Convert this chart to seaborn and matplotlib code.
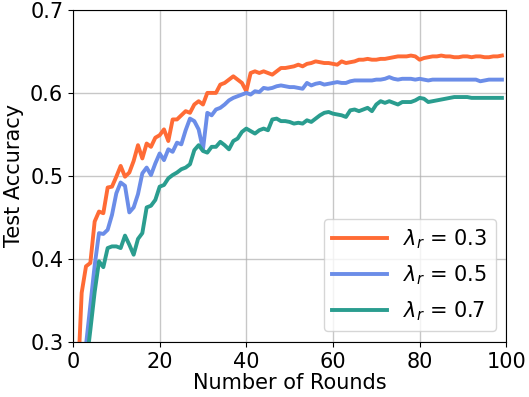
import numpy as np
import pandas as pd
import matplotlib
matplotlib.use('Agg')
import matplotlib.pyplot as plt
import seaborn as sns

rounds = list(range(100))

acc_03 = [0.20, 0.24, 0.359, 0.391, 0.395, 0.445, 0.457, 0.455, 0.486, 0.487,
          0.499, 0.512, 0.499, 0.504, 0.518, 0.537, 0.521, 0.539, 0.535, 0.546,
          0.549, 0.556, 0.542, 0.568, 0.568, 0.573, 0.578, 0.576, 0.586, 0.590,
          0.586, 0.600, 0.600, 0.600, 0.610, 0.612, 0.616, 0.620, 0.616, 0.612,
          0.602, 0.624, 0.626, 0.624, 0.626, 0.624, 0.622, 0.626, 0.630, 0.630,
          0.631, 0.632, 0.634, 0.632, 0.635, 0.636, 0.638, 0.637, 0.636, 0.636,
          0.635, 0.634, 0.638, 0.636, 0.637, 0.638, 0.640, 0.640, 0.641, 0.640,
          0.640, 0.641, 0.641, 0.642, 0.643, 0.644, 0.644, 0.644, 0.645, 0.644,
          0.640, 0.642, 0.643, 0.644, 0.644, 0.645, 0.644, 0.644, 0.643, 0.643,
          0.644, 0.644, 0.643, 0.644, 0.644, 0.643, 0.643, 0.644, 0.644, 0.645]

acc_05 = [0.18, 0.22, 0.26, 0.296, 0.344, 0.392, 0.431, 0.430, 0.435, 0.453,
          0.479, 0.492, 0.488, 0.456, 0.462, 0.478, 0.503, 0.510, 0.501, 0.515,
          0.527, 0.519, 0.532, 0.529, 0.540, 0.538, 0.555, 0.569, 0.566, 0.556,
          0.532, 0.576, 0.573, 0.580, 0.582, 0.586, 0.591, 0.594, 0.596, 0.598,
          0.600, 0.598, 0.602, 0.601, 0.606, 0.605, 0.606, 0.608, 0.609, 0.608,
          0.607, 0.607, 0.606, 0.605, 0.612, 0.609, 0.611, 0.612, 0.610, 0.611,
          0.612, 0.613, 0.612, 0.612, 0.614, 0.615, 0.615, 0.615, 0.615, 0.615,
          0.616, 0.616, 0.617, 0.619, 0.617, 0.616, 0.617, 0.617, 0.617, 0.616,
          0.617, 0.616, 0.615, 0.616, 0.616, 0.616, 0.616, 0.616, 0.616, 0.616,
          0.616, 0.616, 0.616, 0.616, 0.614, 0.615, 0.616, 0.616, 0.616, 0.616]

acc_07 = [0.17, 0.20, 0.24, 0.27, 0.314, 0.360, 0.397, 0.390, 0.413, 0.415,
          0.415, 0.413, 0.428, 0.417, 0.405, 0.424, 0.431, 0.462, 0.464, 0.471,
          0.487, 0.489, 0.497, 0.501, 0.504, 0.508, 0.510, 0.514, 0.531, 0.537,
          0.530, 0.528, 0.535, 0.535, 0.541, 0.537, 0.532, 0.542, 0.545, 0.553,
          0.557, 0.554, 0.551, 0.555, 0.557, 0.555, 0.568, 0.569, 0.566, 0.566,
          0.565, 0.563, 0.564, 0.563, 0.567, 0.565, 0.569, 0.573, 0.576, 0.577,
          0.575, 0.574, 0.573, 0.571, 0.579, 0.580, 0.578, 0.580, 0.582, 0.578,
          0.586, 0.590, 0.588, 0.590, 0.588, 0.586, 0.589, 0.589, 0.589, 0.591,
          0.594, 0.593, 0.589, 0.590, 0.591, 0.592, 0.593, 0.594, 0.595, 0.595,
          0.595, 0.595, 0.594, 0.594, 0.594, 0.594, 0.594, 0.594, 0.594, 0.594]

labels = [r'$\lambda_r$ = 0.3', r'$\lambda_r$ = 0.5', r'$\lambda_r$ = 0.7']
colors = ['#ff6b35', '#6b8de8', '#2a9d8f']

df = pd.DataFrame({
    'round': rounds * 3,
    'acc': acc_03 + acc_05 + acc_07,
    'setting': [labels[0]] * 100 + [labels[1]] * 100 + [labels[2]] * 100,
})

fig, ax = plt.subplots(figsize=(5.29, 3.97), dpi=100)
fig.subplots_adjust(left=0.138, right=0.957, top=0.975, bottom=0.139)

sns.lineplot(data=df, x='round', y='acc', hue='setting', palette=colors,
             linewidth=2.8, ax=ax)

ax.set_xlim(0, 100)
ax.set_ylim(0.3, 0.7)
ax.set_xticks([0, 20, 40, 60, 80, 100])
ax.set_yticks([0.3, 0.4, 0.5, 0.6, 0.7])
ax.grid(True, color='#b0b0b0', linewidth=1, alpha=0.7)
ax.tick_params(labelsize=15)
ax.set_xlabel('Number of Rounds', fontsize=15, labelpad=1)
ax.set_ylabel('Test Accuracy', fontsize=15, labelpad=4)
ax.legend(fontsize=15, loc='lower right', handlelength=2.6, labelspacing=0.6)

fig.savefig('out.png', dpi=100)
